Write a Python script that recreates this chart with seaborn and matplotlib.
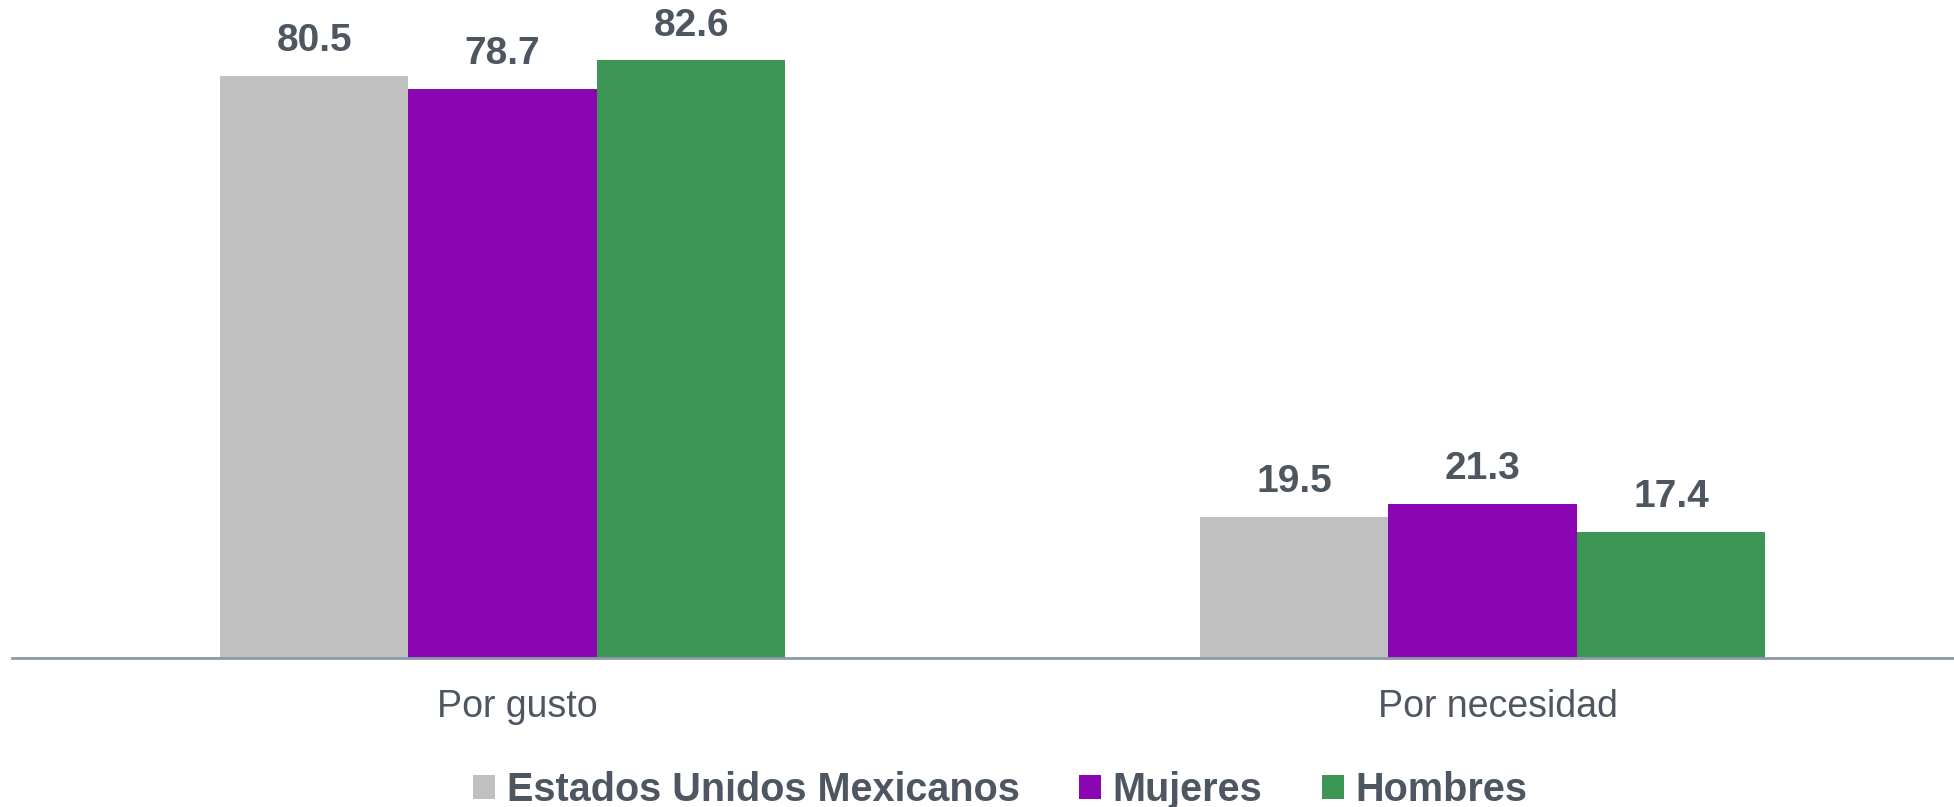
import matplotlib
matplotlib.use("Agg")
import matplotlib.pyplot as plt
import matplotlib.transforms as mtransforms
import seaborn as sns
import pandas as pd

categories = ["Por gusto", "Por necesidad"]
series_names = ["Estados Unidos Mexicanos", "Mujeres", "Hombres"]
eum = [80.5, 19.5]
mujeres = [78.7, 21.3]
hombres = [82.6, 17.4]
colors = ["#C0C0C0", "#8A06B2", "#3D9655"]

rows = []
for name, vals in zip(series_names, [eum, mujeres, hombres]):
    for c, v in zip(categories, vals):
        rows.append({"cat": c, "serie": name, "val": v})
df = pd.DataFrame(rows)

sns.set_theme(style="white")
plt.rcParams["font.family"] = ["Liberation Sans", "DejaVu Sans"]
text_color = "#4D5661"

fig = plt.figure(figsize=(19.54, 8.07), dpi=100)
ax = fig.add_axes([0.006, 0.1846, 0.994, 0.807])
sns.barplot(data=df, x="cat", y="val", hue="serie", palette=colors,
            saturation=1, width=0.577, edgecolor="none", linewidth=0, ax=ax,
            errorbar=None)

ax.set_ylim(0, 90)
ax.set_xlim(-0.501, 1.481)
for c in ax.containers:
    ax.bar_label(c, fmt="%.1f", padding=12, fontsize=28, fontweight="bold",
                 color=text_color)

for s in ["top", "right", "left"]:
    ax.spines[s].set_visible(False)
ax.spines["bottom"].set_color("#8C9AA8")
ax.spines["bottom"].set_linewidth(2)
ax.set_yticks([])
ax.set_xlabel("")
ax.set_ylabel("")
ax.tick_params(axis="x", length=0, pad=22, labelsize=27, labelcolor=text_color)
offset = mtransforms.ScaledTranslation(15 / 100, 0, fig.dpi_scale_trans)
for lbl in ax.get_xticklabels():
    lbl.set_transform(lbl.get_transform() + offset)

handles, labels = ax.get_legend_handles_labels()
ax.get_legend().remove()
leg = fig.legend(handles, labels, loc="center", bbox_to_anchor=(0.512, 0.021),
                 ncol=3, frameon=False, handlelength=0.55, handleheight=0.55,
                 handletextpad=0.3, columnspacing=1.5,
                 prop={"size": 28.5, "weight": "bold"})
for t in leg.get_texts():
    t.set_color(text_color)

fig.savefig("out.png", dpi=100)
